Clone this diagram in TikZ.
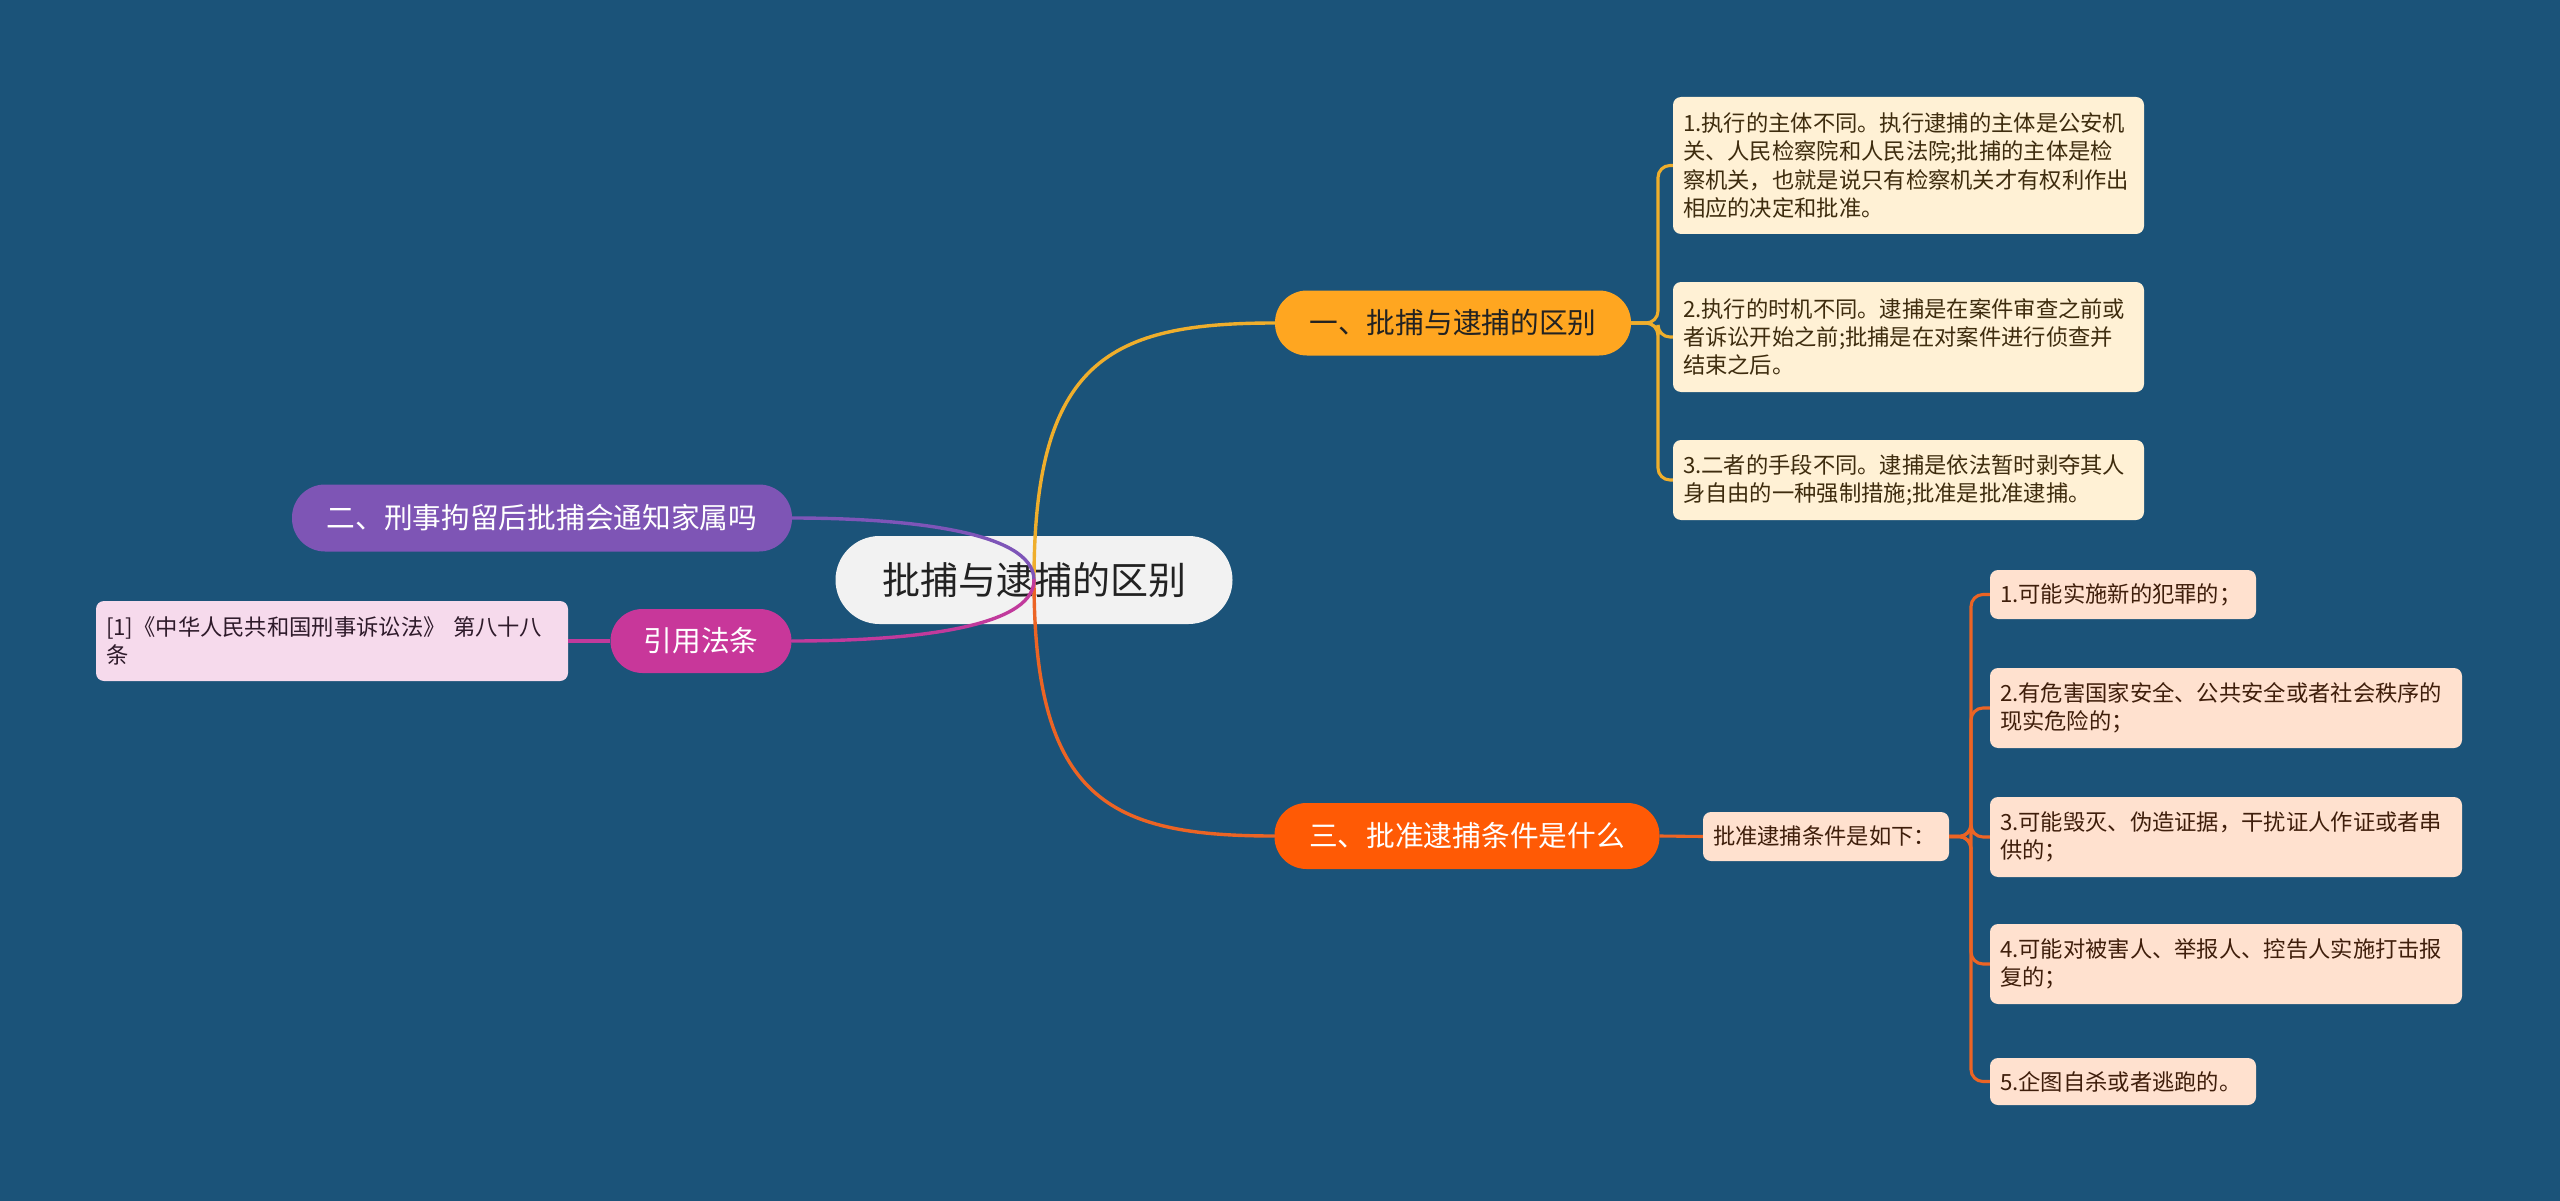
\documentclass[tikz,border=0pt]{standalone}
\usepackage{fontspec}
\setmainfont{Noto Sans CJK SC}
\definecolor{bg}{HTML}{1B5379}
\definecolor{cnode}{HTML}{F2F2F2}
\definecolor{ctext}{HTML}{222222}
\definecolor{ylwfill}{HTML}{FFA620}
\definecolor{ylwline}{HTML}{EFAE2C}
\definecolor{orgfill}{HTML}{FF5A05}
\definecolor{orgline}{HTML}{EC6424}
\definecolor{purfill}{HTML}{7E55B5}
\definecolor{purline}{HTML}{7E55B8}
\definecolor{magfill}{HTML}{C8379A}
\definecolor{magline}{HTML}{C13A9C}
\definecolor{creamfill}{HTML}{FFF1D5}
\definecolor{creamtext}{HTML}{3E2C0E}
\definecolor{peachfill}{HTML}{FFE1CF}
\definecolor{peachtext}{HTML}{3F1E0B}
\definecolor{pinkfill}{HTML}{F6DAEC}
\definecolor{pinktext}{HTML}{2E1A2A}
\begin{document}
\begin{tikzpicture}[x=1pt,y=-1pt,
  mainnode/.style={fill=cnode, text=ctext, minimum width=397pt, minimum height=88pt,
    rounded corners=44pt, inner sep=0pt, font=\fontsize{38}{44}\selectfont},
  branch/.style={minimum height=65pt, rounded corners=32pt, inner sep=0pt,
    font=\fontsize{28.7}{34}\selectfont},
  leaf/.style={rounded corners=8pt, align=left, inner xsep=10pt, inner ysep=0pt,
    font=\fontsize{22.3}{28.33}\selectfont},
  topleaf/.style={leaf, fill=creamfill, text=creamtext, text width=451pt},
  botleaf/.style={leaf, fill=peachfill, text=peachtext},
  conn/.style={line width=3.4pt, line cap=round},
  sub/.style={line width=3.1pt, rounded corners=12pt}
]
\fill[bg] (0,0) rectangle (2560,1201);
\useasboundingbox (0,0) rectangle (2560,1201);

% central node
\node[mainnode] (c) at (1034,580) {批捕与逮捕的区别};

% branches
\node[branch, fill=ylwfill, text=ctext, minimum width=356pt] (n1) at (1453,323) {一、批捕与逮捕的区别};
\node[branch, fill=orgfill, text=white, minimum width=385pt, minimum height=66pt] (n3) at (1467,836) {三、批准逮捕条件是什么};
\node[branch, fill=purfill, text=white, minimum width=500pt, minimum height=67pt, rounded corners=33pt] (n2) at (542,518) {二、刑事拘留后批捕会通知家属吗};
\node[branch, fill=magfill, text=white, minimum width=181pt, minimum height=64pt] (ny) at (701,641) {引用法条};

% reference leaf
\node[leaf, fill=pinkfill, text=pinktext, text width=452pt, minimum height=80pt] (lref) at (332,641)
  {[1]《中华人民共和国刑事诉讼法》 第八十八\\条};

% top leaves
\node[topleaf, minimum height=137pt] (t1) at (1908.5,165.5)
  {1.执行的主体不同。执行逮捕的主体是公安机\\关、人民检察院和人民法院;批捕的主体是检\\察机关，也就是说只有检察机关才有权利作出\\相应的决定和批准。};
\node[topleaf, minimum height=110pt] (t2) at (1908.5,337)
  {2.执行的时机不同。逮捕是在案件审查之前或\\者诉讼开始之前;批捕是在对案件进行侦查并\\结束之后。};
\node[topleaf, minimum height=80pt] (t3) at (1908.5,480)
  {3.二者的手段不同。逮捕是依法暂时剥夺其人\\身自由的一种强制措施;批准是批准逮捕。};

% bottom
\node[botleaf, text width=226pt, minimum height=49pt] (p) at (1826,836.5) {批准逮捕条件是如下：};
\node[botleaf, text width=246pt, minimum height=49pt] (b1) at (2123,594.5) {1.可能实施新的犯罪的；};
\node[botleaf, text width=452pt, minimum height=80pt] (b2) at (2226,708) {2.有危害国家安全、公共安全或者社会秩序的\\现实危险的；};
\node[botleaf, text width=452pt, minimum height=80pt] (b3) at (2226,837) {3.可能毁灭、伪造证据，干扰证人作证或者串\\供的；};
\node[botleaf, text width=452pt, minimum height=80pt] (b4) at (2226,964) {4.可能对被害人、举报人、控告人实施打击报\\复的；};
\node[botleaf, text width=246pt, minimum height=47pt] (b5) at (2123,1081.5) {5.企图自杀或者逃跑的。};

% main connectors
\draw[conn, ylwline] (c.center) .. controls (1034,360) and (1110,323) .. (n1.west);
\draw[conn, orgline] (c.center) .. controls (1034,800) and (1110,836) .. (n3.west);
\draw[conn, purline] (c.center) .. controls (1034,530) and (900,518) .. (n2.east);
\draw[conn, magline] (c.center) .. controls (1034,630) and (900,641) .. (ny.east);
\draw[line width=3.1pt, magline] (ny.west) -- (lref.east);

% top leaf connectors
\coordinate (j1) at (1658,323);
\draw[sub, ylwline] (n1.east) -- (j1) |- (t1.west);
\draw[sub, ylwline] (n1.east) -- (j1) |- (t2.west);
\draw[sub, ylwline] (n1.east) -- (j1) |- (t3.west);

% bottom connectors
\draw[line width=3.1pt, orgline] (n3.east) -- (p.west);
\coordinate (j2) at (1971,836.5);
\draw[sub, orgline] (p.east) -- (j2) |- (b1.west);
\draw[sub, orgline] (p.east) -- (j2) |- (b2.west);
\draw[sub, orgline] (p.east) -- (j2) |- (b3.west);
\draw[sub, orgline] (p.east) -- (j2) |- (b4.west);
\draw[sub, orgline] (p.east) -- (j2) |- (b5.west);
\end{tikzpicture}
\end{document}
